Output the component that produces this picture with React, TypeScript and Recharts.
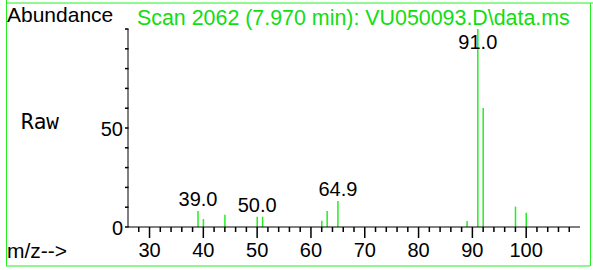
import { BarChart, Bar, XAxis, YAxis, LabelList } from 'recharts'

const mz = [39, 40, 44, 50, 51, 62, 63, 65, 89, 91, 92, 98, 100]
const abundance = [8.1, 4.0, 6.2, 5.2, 5.2, 3.2, 8.1, 13.1, 3.0, 100, 60.1, 10.3, 7.2]
const peakLabels = ['39.0', '', '', '50.0', '', '', '', '64.9', '', '91.0', '', '', '']

const xTicks = [28, 30, 32, 34, 36, 38, 40, 42, 44, 46, 48, 50, 52, 54, 56, 58, 60, 62, 64, 66, 68, 70, 72, 74, 76, 78, 80, 82, 84, 86, 88, 90, 92, 94, 96, 98, 100, 102, 104, 106, 108]
const yTicks = [0, 10, 20, 30, 40, 50, 60, 70, 80, 90, 100]
const yLabelled = [0, 50]

const data = mz.map((m, i) => ({ mz: m, value: abundance[i], label: peakLabels[i] }))

const GREEN = '#22ee22'
const FONT = '"Liberation Sans", Arial, sans-serif'

const XTick = (props: any) => {
  const { x, y, payload } = props
  const major = payload.value % 10 === 0
  return (
    <g>
      <rect x={x - 0.75} y={y - 5} width={1.5} height={major ? 11 : 5} fill="#000" />
      {major && (
        <text x={x} y={y + 25} textAnchor="middle" fontSize={20} fontFamily={FONT} fill="#000">
          {payload.value}
        </text>
      )}
    </g>
  )
}

const YTick = (props: any) => {
  const { x, y, payload } = props
  return (
    <g>
      <rect x={x - 3} y={y - 0.75} width={3.5} height={1.5} fill="#000" />
      {yLabelled.includes(payload.value) && (
        <text x={x - 5} y={y + 8} textAnchor="end" fontSize={20} fontFamily={FONT} fill="#000">
          {payload.value}
        </text>
      )}
    </g>
  )
}

const PeakLabel = (props: any) => {
  const { x, y, width, value } = props
  if (!value) return null
  const ty = Math.max(y - 5, 49)
  return (
    <text x={x + width / 2} y={ty} textAnchor="middle" fontSize={20} fontFamily={FONT} fill="#000">
      {value}
    </text>
  )
}

export default function App() {
  return (
    <div style={{ position: 'absolute', top: 0, left: 0, width: 593, height: 270, background: '#fff' }}>
      <BarChart width={593} height={270} data={data} margin={{ top: 29, right: 13, left: 0, bottom: 0 }}>
        <XAxis
          dataKey="mz"
          type="number"
          domain={[26, 110]}
          ticks={xTicks}
          interval={0}
          height={43}
          tickSize={5}
          tickMargin={0}
          tickLine={false}
          tick={<XTick />}
          axisLine={{ stroke: '#000' }}
          allowDataOverflow
        />
        <YAxis
          type="number"
          domain={[0, 100]}
          ticks={yTicks}
          interval={0}
          width={128}
          tickSize={0}
          tickMargin={0}
          tickLine={false}
          tick={<YTick />}
          axisLine={{ stroke: '#000' }}
        />
        <Bar dataKey="value" fill={GREEN} barSize={1.5} isAnimationActive={false}>
          <LabelList dataKey="label" content={<PeakLabel />} />
        </Bar>
      </BarChart>
      <svg width={593} height={270} style={{ position: 'absolute', top: 0, left: 0, pointerEvents: 'none' }}>
        <line x1={6} x2={593} y1={3} y2={3} stroke={GREEN} />
        <line x1={6.5} x2={6.5} y1={0} y2={266} stroke={GREEN} />
        <line x1={6} x2={590} y1={266} y2={266} stroke={GREEN} />
        <line x1={590.5} x2={590.5} y1={3} y2={266} stroke={GREEN} />
        <text x={7} y={22} fontSize={21} fontFamily={FONT} fill="#000">Abundance</text>
        <text x={137} y={25} fontSize={21.4} fontFamily={FONT} fill="#11dd11">
          Scan 2062 (7.970 min): VU050093.D\data.ms
        </text>
        <text x={21} y={129} fontSize={21} fontFamily='"DejaVu Sans Mono", monospace' fill="#000">Raw</text>
        <text x={7} y={258} fontSize={21} fontFamily={FONT} fill="#000">m/z--&gt;</text>
      </svg>
    </div>
  )
}
